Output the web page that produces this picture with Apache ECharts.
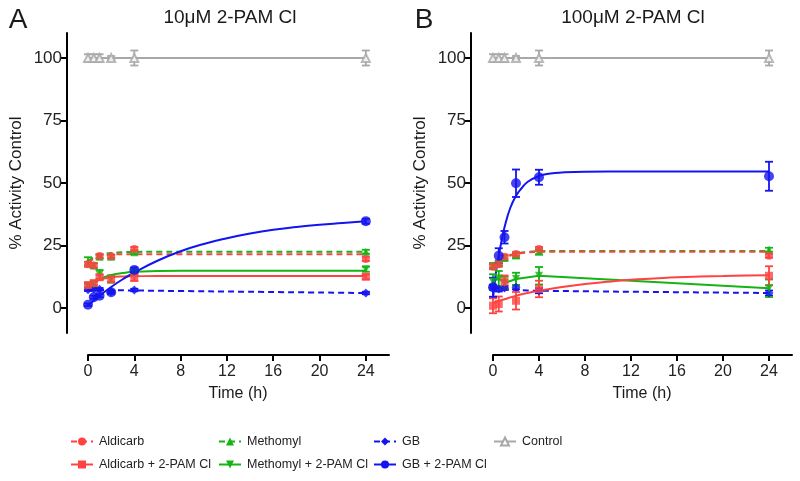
<!DOCTYPE html>
<html>
<head>
<meta charset="utf-8">
<script src="https://cdn.jsdelivr.net/npm/echarts/dist/echarts.min.js"></script>
<style>html,body{margin:0;padding:0;background:#fff}#c{width:800px;height:481px}</style>
</head>
<body>
<div id="c"></div>
<script>
// ---------- DATA ----------
const timePoints = [0, 0.5, 1, 2, 4, 24];
const xTicks = [0, 4, 8, 12, 16, 20, 24];
const yTicks = [0, 25, 50, 75, 100];
const panelTitles = ['10\u03bcM 2-PAM Cl', '100\u03bcM 2-PAM Cl'];
const panelLetters = ['A', 'B'];
const xAxisName = 'Time (h)';
const yAxisName = '% Activity Control';

// Panel A (10 uM 2-PAM Cl): means and error bars at timePoints
const aAldicarb = [17.5, 17.0, 20.8, 20.7, 23.6, 19.6];
const aAldicarbErr = [1.0, 0.8, 0.8, 0.6, 0.8, 0.8];
const aMethomyl = [18.5, 17.0, 20.5, 20.5, 22.3, 22.5];
const aMethomylErr = [1.8, 1.0, 0.8, 0.8, 0.8, 0.8];
const aAldPam = [9.2, 10.0, 12.3, 11.5, 12.3, 12.5];
const aAldPamErr = [0.8, 0.8, 1.0, 1.0, 1.5, 1.0];
const aMetPam = [8.9, 9.5, 13.4, 11.6, 14.3, 15.5];
const aMetPamErr = [0.8, 1.0, 1.8, 1.5, 1.0, 1.0];
const aGB = [7.3, 7.5, 7.5, 6.5, 7.2, 6.0];
const aGBErr = [0.5, 0.5, 0.5, 0.5, 0.5, 0.5];
const aGBPam = [1.3, 4.3, 4.9, 6.3, 15.2, 34.7];
const aGBPamErr = [0.5, 0.6, 0.6, 0.6, 1.0, 1.0];
const aControl = [100, 100, 100, 100, 100, 100];
const aControlErr = [1.5, 1.5, 1.5, 0.8, 3.0, 3.0];

// Panel B (100 uM 2-PAM Cl)
const bAldicarb = [16.5, 17.5, 20.5, 21.6, 23.6, 20.9];
const bAldicarbErr = [1.0, 1.0, 0.8, 0.8, 0.8, 0.8];
const bMethomyl = [17.0, 18.0, 20.0, 21.0, 22.5, 23.3];
const bMethomylErr = [1.0, 1.0, 1.0, 1.0, 1.0, 0.8];
const bAldPam = [0.9, 1.6, 10.5, 2.9, 7.6, 12.9];
const bAldPamErr = [3.0, 3.0, 2.5, 3.5, 3.3, 3.8];
const bMetPam = [10.5, 11.8, 10.0, 11.6, 12.9, 7.9];
const bMetPamErr = [3.0, 3.0, 2.5, 2.5, 3.5, 3.5];
const bGB = [8.3, 7.6, 8.0, 8.3, 6.9, 6.0];
const bGBErr = [1.0, 1.0, 0.8, 0.8, 1.0, 1.0];
const bGBPam = [8.3, 20.9, 28.3, 49.9, 52.3, 52.7];
const bGBPamErr = [3.8, 3.0, 2.5, 5.5, 3.0, 5.8];
const bControl = [100, 100, 100, 100, 100, 100];
const bControlErr = [1.5, 1.5, 1.5, 0.8, 3.0, 3.0];

// Fitted curves
const fitTimesShort = [0, 0.5, 1, 1.5, 2, 3, 4, 6, 8, 24];
const fitTimesLong = [0, 1, 2, 3, 4, 6, 8, 10, 12, 14, 16, 18, 20, 22, 24];
const fitTimesFast = [0, 0.25, 0.5, 0.75, 1, 1.5, 2, 2.5, 3, 4, 5, 6, 8, 12, 24];
const fitTimesGB = [0, 0.5, 1, 2, 4, 24];
const aAldicarbFit = [18.2, 19.6, 20.5, 21.0, 21.3, 21.5, 21.5, 21.5, 21.5, 21.5];
const aMethomylFit = [18.8, 20.2, 21.2, 21.7, 22.0, 22.3, 22.4, 22.5, 22.5, 22.5];
const aAldPamFit = [8.7, 10.3, 11.3, 11.9, 12.3, 12.6, 12.7, 12.8, 12.8, 12.8];
const aMetPamFit = [8.0, 10.0, 11.5, 12.5, 13.2, 14.0, 14.5, 14.8, 14.9, 14.9];
const aGBFit = [7.3, 7.25, 7.2, 7.15, 7.0, 6.0];
const aGBPamFit = [1.0, 4.9, 8.4, 11.5, 14.2, 18.9, 22.7, 25.6, 27.9, 29.8, 31.3, 32.4, 33.3, 34.0, 34.7];
const bAldicarbFit = [16.5, 18.5, 20.0, 21.0, 21.6, 22.2, 22.4, 22.5, 22.5, 22.5];
const bMethomylFit = [16.8, 18.8, 20.2, 21.2, 21.8, 22.4, 22.7, 22.8, 22.8, 22.8];
const bGBFit = [8.2, 7.8, 7.5, 7.2, 6.9, 6.0];
const bAldPamFit = [2.0, 3.5, 4.9, 6.0, 6.9, 8.4, 9.6, 10.5, 11.3, 11.8, 12.3, 12.6, 12.8, 13.0, 13.1];
const bGBPamFit = [3.6, 14.0, 20.9, 27.0, 32.3, 40.0, 44.9, 48.0, 50.4, 52.8, 53.8, 54.2, 54.5, 54.6, 54.6];

// ---------- STYLE ----------
const FONT = '"Liberation Sans", Arial, Helvetica, sans-serif';
const RED = '#ff4343', GREEN = '#14b414', BLUE = '#1414f0', GRAY = '#a8a8a8';
const TRI_DOWN = 'path://M0,0L10,0L5,9Z';
const styles = {
  'Aldicarb': {color: RED, symbol: 'circle', size: 8, dashed: true},
  'Aldicarb + 2-PAM Cl': {color: RED, symbol: 'rect', size: 8, dashed: false},
  'Methomyl': {color: GREEN, symbol: 'triangle', size: 8, dashed: true},
  'Methomyl + 2-PAM Cl': {color: GREEN, symbol: TRI_DOWN, size: 8, dashed: false},
  'GB': {color: BLUE, symbol: 'diamond', size: 9, dashed: true},
  'GB + 2-PAM Cl': {color: BLUE, symbol: 'circle', size: 10, dashed: false},
  'Control': {color: GRAY, symbol: 'emptyTriangle', size: 8, dashed: false}
};

function pair(ts, vs) { return ts.map((t, i) => [t, vs[i]]); }
function triple(ts, vs, es) { return ts.map((t, i) => [t, vs[i], es[i]]); }

function errRender(color) {
  return function (params, api) {
    const x = api.value(0), y = api.value(1), e = api.value(2);
    const top = api.coord([x, y + e]);
    const bot = api.coord([x, y - e]);
    const hw = 4;
    const st = {stroke: color, lineWidth: 1.8};
    return {type: 'group', children: [
      {type: 'line', shape: {x1: top[0], y1: top[1], x2: bot[0], y2: bot[1]}, style: st},
      {type: 'line', shape: {x1: top[0] - hw, y1: top[1], x2: top[0] + hw, y2: top[1]}, style: st},
      {type: 'line', shape: {x1: bot[0] - hw, y1: bot[1], x2: bot[0] + hw, y2: bot[1]}, style: st}
    ]};
  };
}

const series = [];
function addGroup(panel, name, lineT, lineV, smooth, ptV, ptE) {
  const st = styles[name];
  series.push({
    type: 'line', name: name, xAxisIndex: panel, yAxisIndex: panel,
    data: pair(lineT, lineV), showSymbol: false, symbol: st.symbol, symbolSize: st.size,
    smooth: smooth ? 0.5 : false,
    lineStyle: {color: st.color, width: 2, type: st.dashed ? [6, 4] : 'solid'},
    itemStyle: {color: st.color}, clip: false, silent: true, z: 2
  });
  series.push({
    type: 'custom', name: name, xAxisIndex: panel, yAxisIndex: panel,
    data: triple(timePoints, ptV, ptE), renderItem: errRender(st.color),
    encode: {x: 0, y: 1}, clip: false, silent: true, z: 3
  });
  series.push({
    type: 'scatter', name: name, xAxisIndex: panel, yAxisIndex: panel,
    data: pair(timePoints, ptV), symbol: st.symbol, symbolSize: st.size,
    itemStyle: {color: st.color, borderColor: st.color, borderWidth: st.symbol === 'emptyTriangle' ? 1.5 : 0},
    clip: false, z: 4
  });
}

// Panel A
addGroup(0, 'Control', timePoints, aControl, false, aControl, aControlErr);
addGroup(0, 'GB', fitTimesGB, aGBFit, true, aGB, aGBErr);
addGroup(0, 'Methomyl', fitTimesShort, aMethomylFit, true, aMethomyl, aMethomylErr);
addGroup(0, 'Aldicarb', fitTimesShort, aAldicarbFit, true, aAldicarb, aAldicarbErr);
addGroup(0, 'Methomyl + 2-PAM Cl', fitTimesShort, aMetPamFit, true, aMetPam, aMetPamErr);
addGroup(0, 'Aldicarb + 2-PAM Cl', fitTimesShort, aAldPamFit, true, aAldPam, aAldPamErr);
addGroup(0, 'GB + 2-PAM Cl', fitTimesLong, aGBPamFit, true, aGBPam, aGBPamErr);
// Panel B
addGroup(1, 'Control', timePoints, bControl, false, bControl, bControlErr);
addGroup(1, 'GB', fitTimesGB, bGBFit, true, bGB, bGBErr);
addGroup(1, 'Methomyl', fitTimesShort, bMethomylFit, true, bMethomyl, bMethomylErr);
addGroup(1, 'Aldicarb', fitTimesShort, bAldicarbFit, true, bAldicarb, bAldicarbErr);
addGroup(1, 'Methomyl + 2-PAM Cl', timePoints, bMetPam, false, bMetPam, bMetPamErr);
addGroup(1, 'Aldicarb + 2-PAM Cl', fitTimesLong, bAldPamFit, true, bAldPam, bAldPamErr);
addGroup(1, 'GB + 2-PAM Cl', fitTimesFast, bGBPamFit, true, bGBPam, bGBPamErr);

function xAxisCfg(idx) {
  return {
    type: 'value', gridIndex: idx, min: 0, max: 26, offset: 22,
    axisLine: {show: true, onZero: false, lineStyle: {color: '#000', width: 2}},
    axisTick: {show: true, length: 6, customValues: xTicks, lineStyle: {color: '#000', width: 2}},
    axisLabel: {customValues: xTicks, margin: 9, fontSize: 16, color: '#222', fontFamily: FONT},
    splitLine: {show: false}
  };
}
function yAxisCfg(idx, off) {
  return {
    type: 'value', gridIndex: idx, min: -10, max: 110, offset: off,
    axisLine: {show: true, onZero: false, lineStyle: {color: '#000', width: 2}},
    axisTick: {show: true, length: 6, customValues: yTicks, lineStyle: {color: '#000', width: 2}},
    axisLabel: {customValues: yTicks, margin: 5, fontSize: 17, color: '#222', fontFamily: FONT},
    splitLine: {show: false}
  };
}

const legendPos = [
  ['Aldicarb', 70, 435], ['Methomyl', 218, 435], ['GB', 373, 435], ['Control', 493, 435],
  ['Aldicarb + 2-PAM Cl', 70, 458], ['Methomyl + 2-PAM Cl', 218, 458], ['GB + 2-PAM Cl', 373, 458]
];
const legends = legendPos.map(p => ({
  data: [p[0]], left: p[1], top: p[2], orient: 'horizontal', padding: 0,
  itemWidth: 22, itemHeight: 10, itemGap: 0, selectedMode: true,
  textStyle: {fontSize: 12.5, color: '#222', fontFamily: FONT, padding: [0, 0, 0, 1]}
}));

function txt(x, y, text, size, rot, align) {
  return {type: 'text', x: x, y: y, rotation: rot || 0, silent: true,
    style: {text: text, fontSize: size, fontFamily: FONT, fill: '#1a1a1a', align: align || 'center', verticalAlign: 'middle'}};
}

const chart = echarts.init(document.getElementById('c'), null, {renderer: 'canvas'});
chart.setOption({
  animation: false,
  backgroundColor: '#fff',
  grid: [
    {left: 88, top: 33, width: 301, height: 300, containLabel: false},
    {left: 493, top: 33, width: 299, height: 300, containLabel: false}
  ],
  xAxis: [xAxisCfg(0), xAxisCfg(1)],
  yAxis: [yAxisCfg(0, 21), yAxisCfg(1, 22)],
  legend: legends,
  graphic: [
    txt(18, 20, panelLetters[0], 28),
    txt(230, 18, panelTitles[0], 19),
    txt(424, 20, panelLetters[1], 28),
    txt(633, 18, panelTitles[1], 19),
    txt(238, 394, xAxisName, 16),
    txt(642, 394, xAxisName, 16),
    txt(16, 183, yAxisName, 17, Math.PI / 2),
    txt(420, 183, yAxisName, 17, Math.PI / 2)
  ],
  series: series
});
</script>
</body>
</html>
